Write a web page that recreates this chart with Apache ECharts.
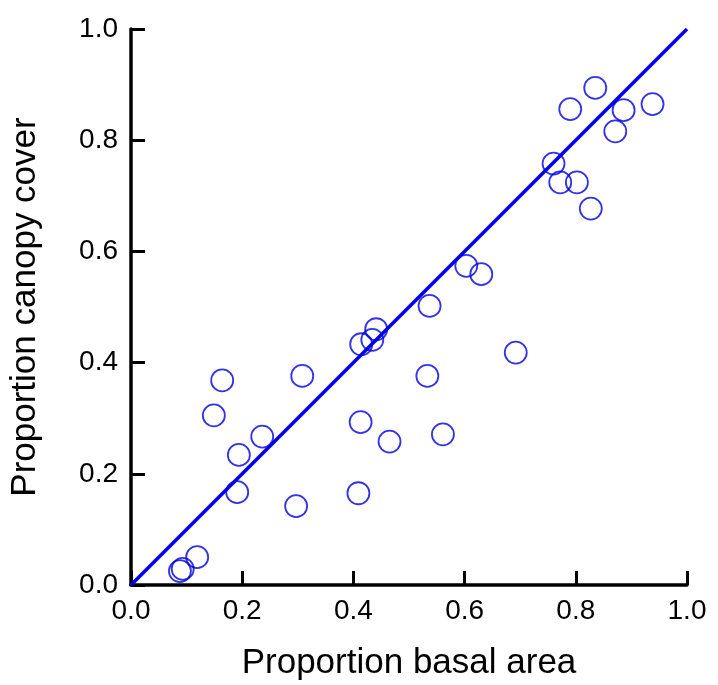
<!DOCTYPE html>
<html>
<head>
<meta charset="utf-8">
<script src="https://cdn.jsdelivr.net/npm/echarts@6/dist/echarts.min.js"></script>
<style>html,body{margin:0;padding:0;background:#fff;}#c{width:718px;height:685px;}</style>
</head>
<body>
<div id="c"></div>
<script>
const xTicks = [0.0, 0.2, 0.4, 0.6, 0.8, 1.0];
const yTicks = [0.0, 0.2, 0.4, 0.6, 0.8, 1.0];
const basalArea = [0.088, 0.093, 0.119, 0.164, 0.149, 0.236, 0.194, 0.191, 0.308, 0.297, 0.413, 0.409, 0.465, 0.533, 0.561, 0.414, 0.434, 0.441, 0.537, 0.603, 0.630, 0.692, 0.835, 0.790, 0.886, 0.938, 0.871, 0.760, 0.772, 0.802, 0.827];
const canopyCover = [0.025, 0.029, 0.050, 0.368, 0.305, 0.267, 0.234, 0.167, 0.376, 0.142, 0.293, 0.165, 0.258, 0.376, 0.271, 0.433, 0.441, 0.460, 0.502, 0.574, 0.559, 0.418, 0.894, 0.856, 0.854, 0.865, 0.816, 0.758, 0.724, 0.724, 0.677];
const lineX = [0, 1];
const lineY = [0, 1];

const chart = echarts.init(document.getElementById('c'), null, {renderer: 'canvas'});
const font = 'Liberation Sans, Arial, sans-serif';
const axisCommon = {
  type: 'value', min: 0, max: 1, interval: 0.2,
  splitLine: {show: false},
  axisLine: {show: true, onZero: false, lineStyle: {color: '#000', width: 3.5}},
  axisTick: {show: true, inside: true, length: 14, lineStyle: {color: '#000', width: 3}},
  axisLabel: {color: '#000', fontSize: 28, fontFamily: font, formatter: v => v.toFixed(1)},
  nameLocation: 'middle',
  nameTextStyle: {color: '#000', fontSize: 35, fontFamily: font}
};
chart.setOption({
  animation: false,
  backgroundColor: '#fff',
  grid: {left: 131, right: 31, top: 29, bottom: 100, containLabel: false, outerBoundsMode: 'none'},
  xAxis: Object.assign({}, axisCommon, {name: 'Proportion basal area', nameGap: 61, axisLabel: Object.assign({}, axisCommon.axisLabel, {margin: 12})}),
  yAxis: Object.assign({}, axisCommon, {name: 'Proportion canopy cover', nameGap: 88, nameRotate: 90, axisLabel: Object.assign({}, axisCommon.axisLabel, {margin: 13})}),
  series: [
    {
      type: 'line',
      data: lineX.map((x, i) => [x, lineY[i]]),
      showSymbol: false,
      lineStyle: {color: '#0000ee', width: 3.5},
      z: 3
    },
    {
      type: 'scatter',
      data: basalArea.map((x, i) => [x, canopyCover[i]]),
      symbol: 'circle',
      symbolSize: 22,
      itemStyle: {color: 'rgba(0,0,0,0)', borderColor: '#0000dd', borderWidth: 1.8},
      z: 4
    }
  ]
});
</script>
</body>
</html>
